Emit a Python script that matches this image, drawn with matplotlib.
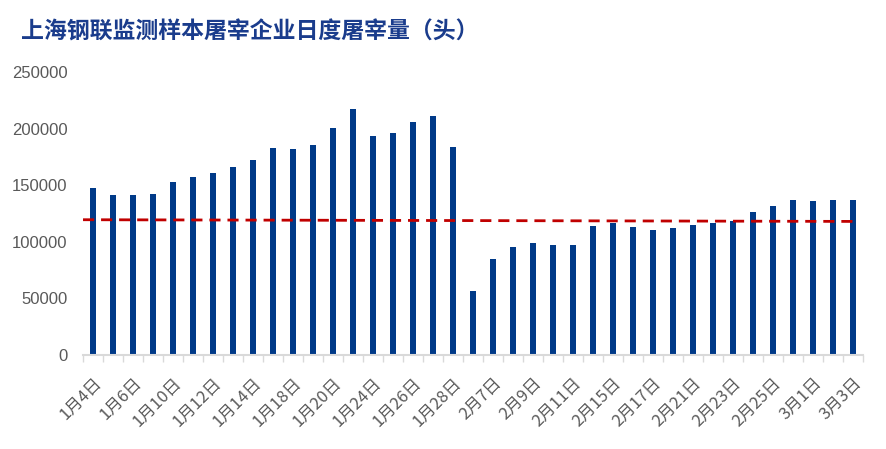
#!/usr/bin/env python3

import numpy as np
import matplotlib
matplotlib.use('Agg')
import matplotlib.pyplot as plt

# Daily slaughter volume (head)
dates = ['1月4日', '1月5日', '1月6日', '1月7日', '1月10日', '1月11日', '1月12日', '1月13日',
         '1月14日', '1月17日', '1月18日', '1月19日', '1月20日', '1月21日', '1月24日', '1月25日',
         '1月26日', '1月27日', '1月28日', '1月29日', '2月7日', '2月8日', '2月9日', '2月10日',
         '2月11日', '2月14日', '2月15日', '2月16日', '2月17日', '2月18日', '2月21日', '2月22日',
         '2月23日', '2月24日', '2月25日', '2月28日', '3月1日', '3月2日', '3月3日']
volume = [147500, 141300, 141300, 142200, 152800, 157200, 160700, 166000,
          172200, 182800, 181900, 185400, 200400, 217200, 193400, 196000,
          205700, 211000, 183700, 56500, 84800, 95400, 98900, 97100,
          97100, 113900, 116600, 113000, 110400, 112100, 114800, 116600,
          118000, 126300, 131600, 136900, 136000, 136900, 136900]
# dashed reference line, value at left end and right end
ref_line = [119500, 118000]

bar_color = '#003A88'
grey = '#595959'

fig = plt.figure(figsize=(8.86, 4.49), dpi=100)
ax = fig.add_axes([0.0937, 0.2094, 0.8800, 0.6302])

x = np.arange(len(dates))
ax.bar(x, volume, width=0.3, color=bar_color, zorder=2)
ax.plot([-0.5, len(dates) - 1], ref_line, color='#C00000', linestyle=(0, (4, 2.5)),
        linewidth=2, zorder=3)

ax.set_xlim(-0.5, len(dates) - 0.5)
ax.set_ylim(0, 250000)
ax.set_yticks(np.arange(0, 250001, 50000))
ax.set_yticklabels([str(v) for v in range(0, 250001, 50000)],
                   fontsize=12, color=grey, family=['Liberation Sans', 'DejaVu Sans'])
ax.tick_params(axis='y', length=0, pad=11)

# category labels every other bar, ticks on category boundaries
ax.set_xticks(x[::2])
ax.set_xticklabels(dates[::2], rotation=45, ha='right', rotation_mode='anchor',
                   fontsize=12, color=grey, family=['Noto Sans CJK SC', 'DejaVu Sans'])
ax.tick_params(axis='x', length=0, pad=14)
ax.set_xticks(np.arange(-0.5, len(dates), 1), minor=True)
ax.tick_params(axis='x', which='minor', length=5, color='#D9D9D9', width=1)

for side in ['top', 'right', 'left']:
    ax.spines[side].set_visible(False)
ax.spines['bottom'].set_color('#D9D9D9')
ax.spines['bottom'].set_linewidth(1.5)

fig.text(0.024, 0.928, '上海钢联监测样本屠宰企业日度屠宰量（头）', fontsize=16.5,
         fontweight='bold', color='#1A3C8C', va='center',
         family=['Noto Sans CJK SC', 'DejaVu Sans'])

plt.savefig('out.png', dpi=100)
